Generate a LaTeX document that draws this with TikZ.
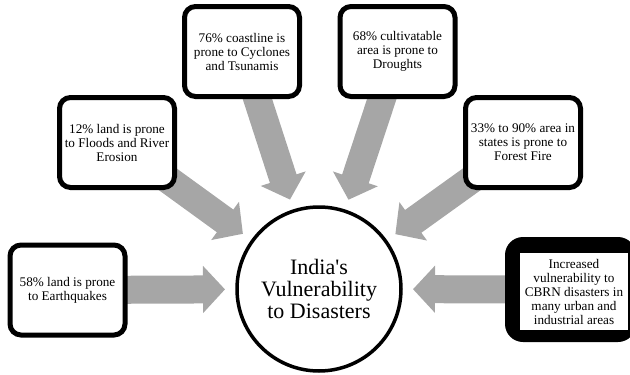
\documentclass[tikz,border=0pt]{standalone}
\usepackage{fontspec}
\setmainfont{Liberation Serif}
\usetikzlibrary{arrows.meta,calc,backgrounds}
\definecolor{arrowgray}{RGB}{166,166,166}

\begin{document}
\begin{tikzpicture}[x=1pt,y=-1pt,
    factbox/.style={draw=black,line width=5pt,rounded corners=11pt,fill=white,
        minimum width=115pt,minimum height=90pt,align=center,inner sep=2pt,
        font=\fontsize{13.2}{14}\selectfont},
    bigarrow/.style={draw=arrowgray,line width=28pt,
        -{Triangle[width=46pt,length=22pt]}},
    hubcircle/.style={circle,draw=black,line width=3.5pt,fill=white,
        minimum size=164pt,inner sep=0pt,align=center,
        font=\fontsize{22}{22}\selectfont}]
    \useasboundingbox (0,0) rectangle (630,375);
    % centre
    \node[hubcircle] (hub) at (319,289) {India\textquotesingle s\\Vulnerability\\to Disasters};
    % the six facts
    \node[factbox] (quake) at (67.5,290) {58\% land is prone\\to Earthquakes};
    \node[factbox] (flood) at (117,142.5) {12\% land is prone\\to Floods and River\\Erosion};
    \node[factbox] (cyclone) at (242,51.5) {76\% coastline is\\prone to Cyclones\\and Tsunamis};
    \node[factbox] (drought) at (397.5,51.5) {68\% cultivatable\\area is prone to\\Droughts};
    \node[factbox] (fire) at (523,142.5) {33\% to 90\% area in\\states is prone to\\Forest Fire};
    \node[fill=black,rounded corners=18pt,minimum width=131pt,minimum height=105pt,
        inner sep=0pt] (cbrn) at (570.5,289.5) {};
    \node[fill=white,minimum width=108pt,minimum height=77pt,inner sep=0pt,align=center,
        font=\fontsize{13.2}{14}\selectfont] (cbrntext) at (574,291.5)
        {Increased\\vulnerability to\\CBRN disasters in\\many urban and\\industrial areas};
    % arrows into the circle
    \begin{scope}[on background layer]
        \foreach \src in {quake,flood,cyclone,drought,fire,cbrn}
            \draw[bigarrow] (\src.center) -- ($(hub.center)!94pt!(\src.center)$);
    \end{scope}
\end{tikzpicture}
\end{document}
